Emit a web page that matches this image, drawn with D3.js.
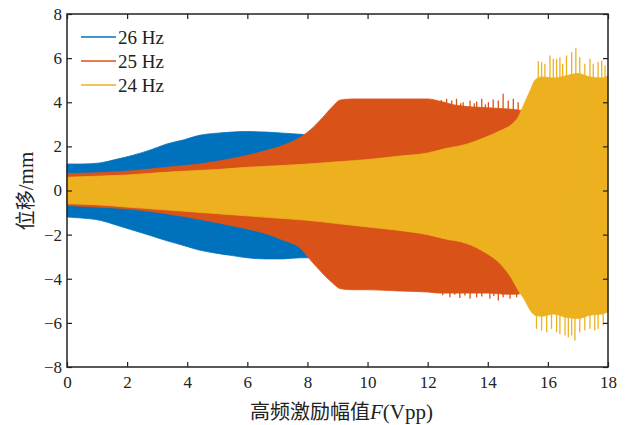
<!DOCTYPE html>
<html>
<head>
<meta charset="utf-8">
<script src="https://cdn.jsdelivr.net/npm/d3@7"></script>
<style>
  body { margin: 0; background: #fff; }
  text { font-family: "Liberation Serif", "Times New Roman", serif; fill: #222; }
</style>
</head>
<body>
<svg id="chart" width="627" height="425"></svg>
<script>
// envelope of each signal (x = F in Vpp, y = mm)
var blueX  = [0, 0.5, 1.1, 1.6, 2.2, 2.8, 3.3, 3.9, 4.4, 5.0, 5.5, 6.0, 6.6, 7.2, 7.75, 8.2];
var blueHi = [1.2, 1.2, 1.25, 1.4, 1.6, 1.85, 2.1, 2.3, 2.5, 2.6, 2.65, 2.67, 2.65, 2.6, 2.55, 2.5];
var blueLo = [-1.2, -1.25, -1.35, -1.55, -1.8, -2.05, -2.27, -2.5, -2.7, -2.85, -2.95, -3.05, -3.1, -3.1, -3.05, -3.05];

var orangeX  = [0, 1, 2.2, 3.3, 4.4, 5.5, 6.6, 7.2, 7.75, 8.1, 8.5, 8.8, 9.1, 9.5, 10, 11, 12, 12.4, 13, 14, 14.6, 15.0, 15.2];
var orangeHi = [0.77, 0.8, 0.9, 1.05, 1.2, 1.45, 1.8, 2.05, 2.4, 2.75, 3.3, 3.75, 4.1, 4.15, 4.15, 4.15, 4.15, 4.05, 3.85, 3.75, 3.7, 3.65, 3.6];
var orangeLo = [-0.68, -0.75, -0.85, -1.05, -1.3, -1.6, -1.95, -2.25, -2.6, -3.15, -3.75, -4.15, -4.45, -4.5, -4.5, -4.55, -4.6, -4.65, -4.65, -4.65, -4.7, -4.7, -4.5];

var yellowX  = [0, 1, 2, 3, 4, 5, 6, 7, 8, 9, 10, 11, 12, 12.6, 13.3, 13.9, 14.4, 14.8, 15.0, 15.2, 15.4, 15.57, 15.8, 16.2, 16.6, 17, 17.4, 17.8, 18];
var yellowHi = [0.6, 0.65, 0.7, 0.8, 0.88, 0.95, 1.05, 1.12, 1.2, 1.3, 1.4, 1.55, 1.7, 1.9, 2.1, 2.4, 2.7, 3.0, 3.3, 3.9, 4.5, 5.0, 5.15, 5.1, 5.2, 5.3, 5.15, 5.1, 5.2];
var yellowLo = [-0.6, -0.65, -0.75, -0.85, -0.95, -1.05, -1.15, -1.25, -1.35, -1.5, -1.65, -1.8, -2.0, -2.2, -2.4, -2.8, -3.3, -4.0, -4.5, -4.9, -5.4, -5.65, -5.7, -5.6, -5.75, -5.8, -5.65, -5.6, -5.5];

// single peaks sticking out of the envelope
var orangePeakX  = [12.45, 12.63, 12.8, 12.96, 13.1, 13.18, 13.41, 13.55, 13.63, 13.8, 13.92, 14.02, 14.18, 14.35, 14.51, 14.68, 14.85, 15.01];
var orangePeakHi = [4.1, 4.16, 4.08, 4.16, 3.95, 4.0, 4.08, 3.95, 4.03, 4.16, 3.9, 4.0, 4.12, 4.08, 4.38, 4.08, 4.16, 4.0];
var orangeDipX   = [12.5, 12.74, 12.9, 13.07, 13.24, 13.41, 13.63, 13.8, 14.07, 14.2, 14.35, 14.51, 14.74, 14.96];
var orangeDipLo  = [-4.75, -4.84, -4.72, -4.87, -4.76, -4.91, -4.84, -4.8, -4.91, -4.78, -4.99, -4.84, -4.91, -4.84];

var yellowPeakX  = [15.68, 15.79, 15.9, 16.07, 16.18, 16.29, 16.4, 16.49, 16.62, 16.79, 16.93, 17.06, 17.23, 17.4, 17.51, 17.67, 17.79, 17.9];
var yellowPeakHi = [5.86, 5.82, 5.74, 6.12, 5.97, 5.97, 6.04, 5.74, 6.12, 6.27, 6.47, 6.04, 5.74, 5.97, 5.74, 5.82, 5.89, 5.67];
var yellowDipX   = [15.62, 15.79, 15.96, 16.12, 16.29, 16.4, 16.57, 16.68, 16.79, 16.9, 17.06, 17.23, 17.4, 17.56, 17.67, 17.84];
var yellowDipLo  = [-6.27, -6.35, -6.42, -6.27, -6.42, -6.5, -6.57, -6.65, -6.57, -6.8, -6.42, -6.35, -6.27, -6.35, -6.27, -6.12];

var seriesNames = ["26 Hz", "25 Hz", "24 Hz"];
var seriesColors = ["#0072BD", "#D95319", "#EDB120"];
var xTicks = [0, 2, 4, 6, 8, 10, 12, 14, 16, 18];
var yTicks = [-8, -6, -4, -2, 0, 2, 4, 6, 8];

var mLeft = 67, mRight = 608, mTop = 14, mBottom = 367;

var svg = d3.select("#chart");
var x = d3.scaleLinear().domain([0, 18]).range([mLeft, mRight]);
var y = d3.scaleLinear().domain([-8, 8]).range([mBottom, mTop]);

function zipEnv(xs, hi, lo) {
  return xs.map(function(d, i) { return {x: d, hi: hi[i], lo: lo[i]}; });
}
var area = d3.area()
    .curve(d3.curveMonotoneX)
    .x(function(d) { return x(d.x); })
    .y0(function(d) { return y(d.lo); })
    .y1(function(d) { return y(d.hi); });

var envs = [
  {env: zipEnv(blueX, blueHi, blueLo), peaks: [], dips: []},
  {env: zipEnv(orangeX, orangeHi, orangeLo),
   peaks: orangePeakX.map(function(d, i) { return [d, orangePeakHi[i]]; }),
   dips: orangeDipX.map(function(d, i) { return [d, orangeDipLo[i]]; })},
  {env: zipEnv(yellowX, yellowHi, yellowLo),
   peaks: yellowPeakX.map(function(d, i) { return [d, yellowPeakHi[i]]; }),
   dips: yellowDipX.map(function(d, i) { return [d, yellowDipLo[i]]; })}
];

var plot = svg.append("g");
envs.forEach(function(s, i) {
  var g = plot.append("g");
  g.append("path")
    .datum(s.env)
    .attr("d", area)
    .attr("fill", seriesColors[i])
    .attr("stroke", seriesColors[i])
    .attr("stroke-width", 0.8);
  g.selectAll(".spk")
    .data(s.peaks.concat(s.dips))
    .enter().append("line")
    .attr("x1", function(d) { return x(d[0]); })
    .attr("x2", function(d) { return x(d[0]); })
    .attr("y1", y(0))
    .attr("y2", function(d) { return y(d[1]); })
    .attr("stroke", seriesColors[i])
    .attr("stroke-width", 1.3);
});

// axes, ticks pointing inward like matlab
function styleAxis(g) {
  g.select(".domain").remove();
  g.selectAll(".tick line").attr("stroke", "#222").attr("stroke-width", 1.2);
  g.selectAll("text").style("font-size", "17px").attr("fill", "#222");
}
svg.append("g").attr("transform", "translate(0," + mBottom + ")")
  .call(d3.axisBottom(x).tickValues(xTicks).tickSizeInner(-5).tickSizeOuter(0).tickPadding(9))
  .call(styleAxis);
svg.append("g").attr("transform", "translate(0," + mTop + ")")
  .call(d3.axisTop(x).tickValues(xTicks).tickSizeInner(-5).tickSizeOuter(0).tickFormat(""))
  .call(styleAxis);
svg.append("g").attr("transform", "translate(" + mLeft + ",0)")
  .call(d3.axisLeft(y).tickValues(yTicks).tickSizeInner(-5).tickSizeOuter(0).tickPadding(5))
  .call(styleAxis);
svg.append("g").attr("transform", "translate(" + mRight + ",0)")
  .call(d3.axisRight(y).tickValues(yTicks).tickSizeInner(-5).tickSizeOuter(0).tickFormat(""))
  .call(styleAxis);

svg.append("rect")
  .attr("x", mLeft).attr("y", mTop)
  .attr("width", mRight - mLeft).attr("height", mBottom - mTop)
  .attr("fill", "none").attr("stroke", "#222").attr("stroke-width", 1.5);

// legend
var legend = svg.append("g");
seriesNames.forEach(function(name, i) {
  var ly = 37 + i * 24;
  legend.append("line")
    .attr("x1", 81).attr("x2", 116).attr("y1", ly).attr("y2", ly)
    .attr("stroke", seriesColors[i]).attr("stroke-width", 1.5);
  legend.append("text")
    .attr("x", 118).attr("y", ly).attr("dy", "0.35em")
    .style("font-size", "19px")
    .text(name);
});

// axis titles
var xt = svg.append("text")
  .attr("x", (mLeft + mRight) / 2 + 4).attr("y", 419)
  .attr("text-anchor", "middle")
  .style("font-size", "21px");
xt.append("tspan").style("font-family", "'Noto Sans CJK SC'").style("font-size", "20px").text("高频激励幅值");
xt.append("tspan").style("font-style", "italic").text("F");
xt.append("tspan").text("(Vpp)");

var yt = svg.append("text")
  .attr("transform", "translate(33,191) rotate(-90)")
  .attr("text-anchor", "middle")
  .style("font-size", "21px");
yt.append("tspan").style("font-family", "'Noto Sans CJK SC'").style("font-size", "20px").text("位移");
yt.append("tspan").text("/mm");
</script>
</body>
</html>
